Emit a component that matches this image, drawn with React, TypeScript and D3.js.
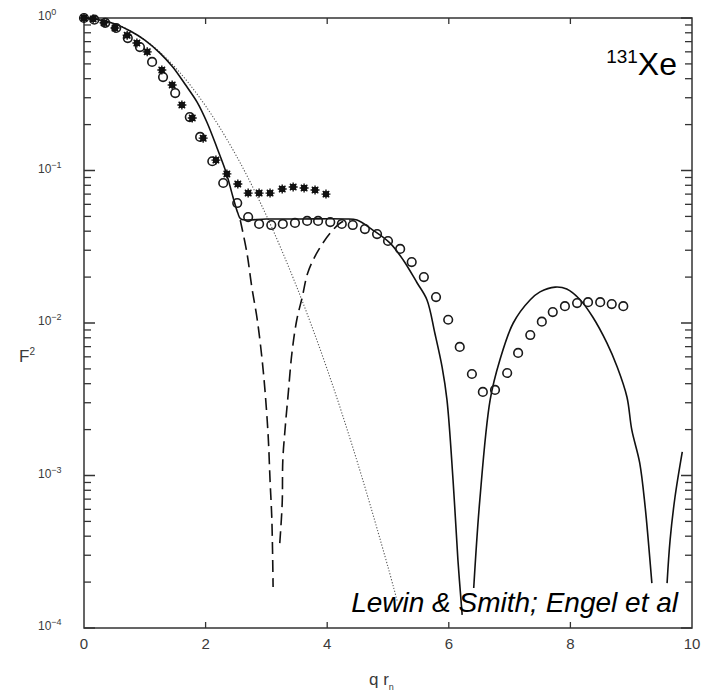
import React from "react";
import * as d3 from "d3";

// ---- data (q r_n, F^2) ----
const circlePoints: [number, number][] = [
  [0.0, 1.0], [0.17, 0.975], [0.35, 0.93], [0.53, 0.86], [0.72, 0.739], [0.92, 0.645],
  [1.12, 0.515], [1.30, 0.41], [1.50, 0.322], [1.74, 0.224], [1.91, 0.166], [2.11, 0.115],
  [2.29, 0.0828], [2.52, 0.0612], [2.70, 0.0495], [2.88, 0.0446], [3.08, 0.0439], [3.27, 0.0446],
  [3.47, 0.0453], [3.67, 0.0467], [3.85, 0.0467], [4.05, 0.0459], [4.24, 0.0446], [4.42, 0.0439],
  [4.62, 0.0413], [4.82, 0.0383], [5.0, 0.0345], [5.2, 0.0306], [5.39, 0.0251], [5.59, 0.02],
  [5.79, 0.0148], [5.99, 0.0105], [6.18, 0.00697], [6.38, 0.00463], [6.56, 0.00353], [6.76, 0.00364],
  [6.96, 0.0047], [7.14, 0.00636], [7.34, 0.00834], [7.53, 0.0102], [7.71, 0.0118], [7.91, 0.0129],
  [8.11, 0.0135], [8.29, 0.0137], [8.49, 0.0137], [8.68, 0.0133], [8.87, 0.0129],
];

const starPoints: [number, number][] = [
  [0.0, 1.0], [0.15, 0.985], [0.33, 0.93], [0.51, 0.86], [0.71, 0.77], [0.87, 0.685],
  [1.04, 0.6], [1.28, 0.456], [1.45, 0.364], [1.61, 0.269], [1.78, 0.221], [1.96, 0.163],
  [2.17, 0.117], [2.35, 0.095], [2.53, 0.0815], [2.7, 0.0711], [2.88, 0.0711], [3.06, 0.0711],
  [3.26, 0.0757], [3.44, 0.078], [3.62, 0.0768], [3.8, 0.0745], [3.98, 0.07],
];

const solidBranch1: [number, number][] = [
  [0, 1.0], [0.26, 0.97], [0.51, 0.914], [0.76, 0.822], [1.0, 0.717], [1.25, 0.589],
  [1.46, 0.477], [1.66, 0.369], [1.86, 0.281], [2.02, 0.208], [2.19, 0.14], [2.34, 0.0964],
  [2.45, 0.067], [2.53, 0.0526], [2.58, 0.0481], [3.0, 0.0481], [3.55, 0.0481], [4.29, 0.0481],
  [4.49, 0.0473], [4.75, 0.0407], [5.03, 0.0335], [5.25, 0.0259], [5.48, 0.0183], [5.64, 0.0142],
  [5.77, 0.0086], [5.89, 0.00514], [5.97, 0.00313], [6.07, 0.00093], [6.15, 0.000279], [6.22, 0.000122],
];

const solidBranch2: [number, number][] = [
  [6.41, 0.000183], [6.51, 0.00069], [6.68, 0.00313], [6.84, 0.00572], [7.06, 0.01], [7.34, 0.0142],
  [7.5, 0.016], [7.75, 0.0172], [7.94, 0.0167], [8.16, 0.0142], [8.37, 0.0109], [8.6, 0.0074],
  [8.77, 0.00514], [8.93, 0.00327], [9.01, 0.00199], [9.14, 0.00121], [9.23, 0.00062], [9.28, 0.000378],
  [9.34, 0.000197],
];

const solidBranch3: [number, number][] = [
  [9.59, 0.000197], [9.64, 0.000378], [9.72, 0.00072], [9.84, 0.00143],
];

const dashedBranch1: [number, number][] = [
  [2.57, 0.0473], [2.68, 0.0288], [2.76, 0.0172], [2.85, 0.0105], [2.93, 0.00572], [2.98, 0.00348],
  [3.03, 0.00179], [3.06, 0.00093], [3.09, 0.00051], [3.11, 0.000186],
];

const dashedBranch2: [number, number][] = [
  [3.22, 0.00036], [3.26, 0.00066], [3.27, 0.00126], [3.31, 0.00208], [3.36, 0.00348], [3.42, 0.00636],
  [3.5, 0.0105], [3.59, 0.0148], [3.68, 0.0213], [3.83, 0.0288], [4.05, 0.0389], [4.24, 0.0459],
  [4.38, 0.0473],
];

const dottedCurve: [number, number][] = [
  [0, 1.0], [0.5, 0.92], [1.0, 0.718], [1.5, 0.474], [2.0, 0.265], [2.5, 0.126], [3.0, 0.0506],
  [3.5, 0.0172], [4.0, 0.00497], [4.5, 0.00121], [5.0, 0.000251], [5.15, 0.000151],
];

const xTicks = [0, 2, 4, 6, 8, 10];
const yDecades = [0, -1, -2, -3, -4];
const yDecadeLabels = ["0", "−1", "−2", "−3", "−4"];

const W = 711;
const H = 695;

export default function App() {
  const x = d3.scaleLinear().domain([0, 10]).range([84, 692]);
  const y = d3.scaleLog().domain([1e-4, 1]).range([628, 18]);

  const line = d3
    .line<[number, number]>()
    .x((d) => x(d[0]))
    .y((d) => y(d[1]))
    .curve(d3.curveCatmullRom.alpha(0.5));

  const minorTicks: number[] = [];
  for (let e = -4; e < 0; e++) {
    for (let k = 2; k <= 9; k++) minorTicks.push(k * Math.pow(10, e));
  }

  const x0 = x(0);
  const x1 = x(10);
  const y0 = y(1);
  const y1 = y(1e-4);
  const axisColor = "#333";
  const labelColor = "#3a3a3a";

  const starPath = (cx: number, cy: number) => {
    const r = 4.5;
    const d = r * 0.72;
    return `M${cx - r},${cy}L${cx + r},${cy}M${cx},${cy - r}L${cx},${cy + r}M${cx - d},${cy - d}L${cx + d},${cy + d}M${cx - d},${cy + d}L${cx + d},${cy - d}`;
  };

  return (
    <svg
      width={W}
      height={H}
      style={{ position: "absolute", left: 0, top: 0, display: "block", background: "#fff" }}
      fontFamily="'Liberation Sans', Arial, sans-serif"
    >
      <rect x={0} y={0} width={W} height={H} fill="#fff" />

      {/* frame */}
      <rect x={x0} y={y0} width={x1 - x0} height={y1 - y0} fill="none" stroke={axisColor} strokeWidth={1.5} />

      {/* y ticks */}
      {yDecades.map((e) => {
        const yy = y(Math.pow(10, e));
        return (
          <g key={"maj" + e}>
            <line x1={x0} x2={x0 + 11} y1={yy} y2={yy} stroke={axisColor} strokeWidth={1.5} />
            <line x1={x1} x2={x1 - 11} y1={yy} y2={yy} stroke={axisColor} strokeWidth={1.5} />
          </g>
        );
      })}
      {minorTicks.map((v, i) => {
        const yy = y(v);
        return (
          <g key={"min" + i}>
            <line x1={x0} x2={x0 + 7} y1={yy} y2={yy} stroke={axisColor} strokeWidth={1.3} />
            <line x1={x1} x2={x1 - 7} y1={yy} y2={yy} stroke={axisColor} strokeWidth={1.3} />
          </g>
        );
      })}

      {/* x ticks */}
      {xTicks.slice(1, -1).map((t) => (
        <g key={"xt" + t}>
          <line x1={x(t)} x2={x(t)} y1={y1} y2={y1 - 6} stroke={axisColor} strokeWidth={1.3} />
          <line x1={x(t)} x2={x(t)} y1={y0} y2={y0 + 6} stroke={axisColor} strokeWidth={1.3} />
        </g>
      ))}

      {/* x tick labels */}
      {xTicks.map((t) => (
        <text key={"xl" + t} x={x(t)} y={649} fontSize={15} textAnchor="middle" fill={labelColor}>
          {t}
        </text>
      ))}

      {/* y tick labels */}
      {yDecades.map((e, i) => (
        <text key={"yl" + e} x={38} y={y(Math.pow(10, e)) + 2} fontSize={12} fill={labelColor}>
          10
          <tspan fontSize={9} dy={-5}>
            {yDecadeLabels[i]}
          </tspan>
        </text>
      ))}

      {/* axis titles */}
      <text x={19} y={362} fontSize={17} fill={labelColor}>
        F<tspan fontSize={10} dy={-7}>2</tspan>
      </text>
      <text x={369} y={685} fontSize={17} fill={labelColor}>
        q r<tspan fontSize={9} dy={5}>n</tspan>
      </text>

      {/* curves */}
      <path d={line(dottedCurve) || ""} fill="none" stroke="#555" strokeWidth={1.1} strokeDasharray="1.2,1.8" />
      <path d={line(dashedBranch1) || ""} fill="none" stroke="#111" strokeWidth={1.6} strokeDasharray="12,6" />
      <path d={line(dashedBranch2) || ""} fill="none" stroke="#111" strokeWidth={1.6} strokeDasharray="12,6" />
      <path d={line(solidBranch1) || ""} fill="none" stroke="#111" strokeWidth={1.6} />
      <path d={line(solidBranch2) || ""} fill="none" stroke="#111" strokeWidth={1.6} />
      <path d={line(solidBranch3) || ""} fill="none" stroke="#111" strokeWidth={1.6} />

      {/* markers */}
      {circlePoints.map((p, i) => (
        <circle key={"c" + i} cx={x(p[0])} cy={y(p[1])} r={4.3} fill="none" stroke="#1a1a1a" strokeWidth={1.6} />
      ))}
      {starPoints.map((p, i) => (
        <g key={"s" + i}>
          <rect x={x(p[0]) - 3} y={y(p[1]) - 3} width={6} height={6} fill="#111" />
          <path d={starPath(x(p[0]), y(p[1]))} stroke="#111" strokeWidth={1.4} />
        </g>
      ))}

      {/* annotations */}
      <text x={677} y={75} textAnchor="end" fill="#000" fontSize={32}>
        <tspan fontSize={19} dy={-12}>131</tspan>
        <tspan dy={12}>Xe</tspan>
      </text>
      <text x={678} y={612} textAnchor="end" fill="#000" fontSize={28} fontStyle="italic">
        Lewin &amp; Smith; Engel et al
      </text>
    </svg>
  );
}
